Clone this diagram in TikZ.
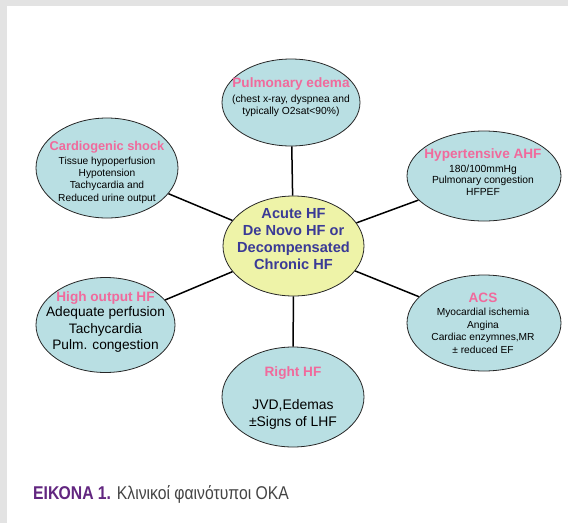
\documentclass[tikz,border=0pt]{standalone}
\usepackage{fontspec}
\setmainfont{Liberation Sans}
\newfontfamily\capfont[FakeStretch=0.85]{Liberation Sans}
\usetikzlibrary{shapes.geometric}
\definecolor{bubblefill}{RGB}{185,223,227}
\definecolor{hubfill}{RGB}{238,243,168}
\definecolor{titlepink}{RGB}{240,106,156}
\definecolor{hubblue}{RGB}{58,58,150}
\definecolor{capviolet}{RGB}{98,38,128}
\definecolor{capgray}{RGB}{68,68,68}
\tikzset{
  bubble/.style={ellipse,draw=black!85,line width=0.8pt,fill=bubblefill,inner sep=0pt},
  hub/.style={ellipse,draw=black!85,line width=0.8pt,fill=hubfill,inner sep=0pt},
  link/.style={draw=black,line width=1.5pt},
  small/.style={align=center,inner sep=0pt,font=\fontsize{10.3}{11.7}\selectfont},
  large/.style={align=center,inner sep=0pt,font=\fontsize{13.7}{16.6}\selectfont},
}
\newcommand{\ttl}[2]{{\fontsize{#1}{#1}\selectfont\bfseries\color{titlepink}#2}}
\begin{document}
\begin{tikzpicture}[x=1pt,y=-1pt]
\fill[gray!22] (0,0) rectangle (568,523);
\fill[white] (7,6) rectangle (568,523);
\useasboundingbox (0,0) rectangle (568,523);
\node[hub,minimum width=141pt,minimum height=100pt] (c) at (293.5,246) {};
\node[bubble,minimum width=138pt,minimum height=87pt] (pe) at (291,102.5) {};
\node[bubble,minimum width=142pt,minimum height=100pt] (cs) at (107,168) {};
\node[bubble,minimum width=154pt,minimum height=90pt] (ha) at (484,176) {};
\node[bubble,minimum width=139pt,minimum height=95pt] (ho) at (105.5,325) {};
\node[bubble,minimum width=154pt,minimum height=96pt] (acs) at (484,323) {};
\node[bubble,minimum width=142pt,minimum height=100pt] (rh) at (293,397) {};
\draw[link] (c) -- (pe);
\draw[link] (c) -- (cs);
\draw[link] (c) -- (ha);
\draw[link] (c) -- (ho);
\draw[link] (c) -- (acs);
\draw[link] (c) -- (rh);
\node[align=center,inner sep=0pt,text=hubblue,font=\fontsize{14.6}{17}\selectfont\bfseries] (c-t) at (293.5,239) {Acute HF\\De Novo HF or\\Decompensated\\Chronic HF};
\node[small] (pe-t) at (291,97) {\ttl{13.6}{Pulmonary edema}\\[3pt](chest x-ray, dyspnea and\\typically O2sat<90\%)};
\node[small,font=\fontsize{10.2}{12.3}\selectfont] (cs-t) at (107,172.5) {\ttl{12.8}{Cardiogenic shock}\\[1pt]Tissue hypoperfusion\\Hypotension\\Tachycardia and\\Reduced urine output};
\node[small] (ha-t) at (483,172) {\ttl{13.6}{Hypertensive AHF}\\[2pt]180/100mmHg\\Pulmonary congestion\\HFPEF};
\node[large] (ho-t) at (105.5,322) {\ttl{13.6}{High output HF}\\[-1pt]Adequate perfusion\\Tachycardia\\Pulm. congestion};
\node[small,font=\fontsize{10.2}{12.6}\selectfont] (acs-t) at (483,323) {\ttl{13.6}{ACS}\\[1pt]Myocardial ischemia\\Angina\\Cardiac enzymnes,MR\\± reduced EF};
\node[large,font=\fontsize{13.9}{16.8}\selectfont] (rh-t) at (293,398) {\ttl{13.6}{Right HF}\\[16.8pt]JVD,Edemas\\±Signs of LHF};
\node[anchor=west,inner sep=0pt,font=\capfont\fontsize{18.5}{20}\selectfont] (cap) at (33,494) {\textcolor{capviolet}{\bfseries ΕΙΚΟΝΑ 1.} \textcolor{capgray}{Κλινικοί φαινότυποι ΟΚΑ}};
\end{tikzpicture}
\end{document}
